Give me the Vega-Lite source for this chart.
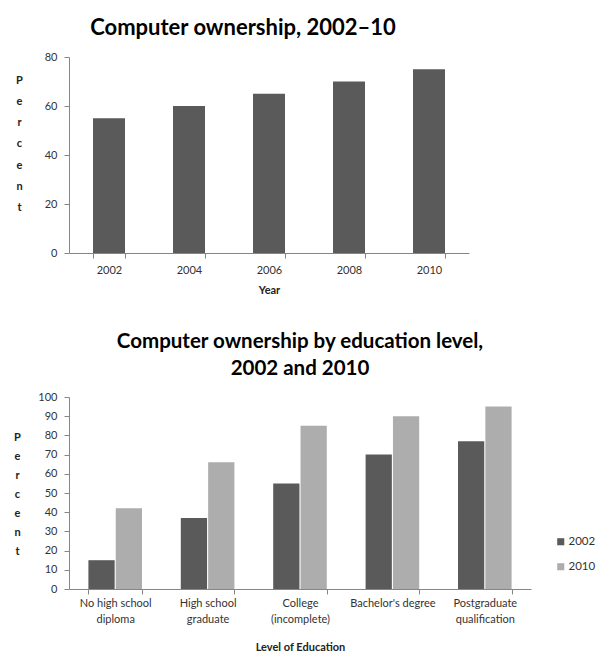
{
  "$schema": "https://vega.github.io/schema/vega-lite/v6.json",
  "background": "white",
  "padding": {"left": 13, "top": 17, "right": 5, "bottom": 5},
  "config": {
    "font": "Lato",
    "view": {"stroke": null},
    "axis": {
      "labelFont": "Lato", "labelFontSize": 11, "labelColor": "#333333",
      "domainColor": "#868686", "tickColor": "#868686", "tickSize": 5,
      "grid": false, "titleFont": "Lato", "titleFontSize": 11,
      "titleFontWeight": "bold", "titleColor": "#222222"
    },
    "title": {"font": "Lato", "fontWeight": "bold", "color": "#000000"},
    "concat": {"spacing": 36}
  },
  "datasets": {
    "years": [
      {"year": "2002", "percent": 55},
      {"year": "2004", "percent": 60},
      {"year": "2006", "percent": 65},
      {"year": "2008", "percent": 70},
      {"year": "2010", "percent": 75}
    ],
    "edu": [
      {"level": "No high school|diploma", "year": "2002", "percent": 15},
      {"level": "No high school|diploma", "year": "2010", "percent": 42},
      {"level": "High school|graduate", "year": "2002", "percent": 37},
      {"level": "High school|graduate", "year": "2010", "percent": 66},
      {"level": "College|(incomplete)", "year": "2002", "percent": 55},
      {"level": "College|(incomplete)", "year": "2010", "percent": 85},
      {"level": "Bachelor's degree", "year": "2002", "percent": 70},
      {"level": "Bachelor's degree", "year": "2010", "percent": 90},
      {"level": "Postgraduate|qualification", "year": "2002", "percent": 77},
      {"level": "Postgraduate|qualification", "year": "2010", "percent": 95}
    ]
  },
  "resolve": {"legend": {"color": "independent"}, "scale": {"color": "independent"}},
  "vconcat": [
    {
      "width": 400,
      "height": 196,
      "title": {"text": "Computer ownership, 2002–10", "fontSize": 22, "dx": -26, "offset": 11},
      "data": {"name": "years"},
      "mark": {"type": "bar", "color": "#5a5a5a"},
      "encoding": {
        "x": {
          "field": "year", "type": "ordinal",
          "scale": {"paddingInner": 0.6, "paddingOuter": 0.3},
          "axis": {"labelAngle": 0, "title": "Year", "tickBand": "extent", "labelPadding": 6, "titlePadding": 9}
        },
        "y": {
          "field": "percent", "type": "quantitative",
          "scale": {"domain": [0, 80]},
          "axis": {
            "values": [0, 20, 40, 60, 80], "labelPadding": 7,
            "title": ["P", "e", "r", "c", "e", "n", "t"],
            "titleAngle": 0, "titleAlign": "center", "titleBaseline": "middle",
            "titleLineHeight": 21.3, "titleX": -50, "titleY": 23, "titleFontSize": 11
          }
        }
      }
    },
    {
      "width": 462,
      "height": 192,
      "title": {"text": ["Computer ownership by education level,", "2002 and 2010"], "fontSize": 20.5, "lineHeight": 27, "offset": 12},
      "data": {"name": "edu"},
      "mark": {"type": "bar"},
      "encoding": {
        "x": {
          "field": "level", "type": "nominal", "sort": null,
          "scale": {"paddingInner": 0.42, "paddingOuter": 0.21},
          "axis": {
            "labelAngle": 0, "labelExpr": "split(datum.label, '|')", "labelLineHeight": 16,
            "title": "Level of Education", "tickBand": "extent", "labelPadding": 3, "titlePadding": 17
          }
        },
        "xOffset": {"field": "year", "type": "nominal", "scale": {"paddingInner": 0.04}},
        "y": {
          "field": "percent", "type": "quantitative",
          "scale": {"domain": [0, 100]},
          "axis": {
            "values": [0, 10, 20, 30, 40, 50, 60, 70, 80, 90, 100], "labelPadding": 7,
            "title": ["P", "e", "r", "c", "e", "n", "t"],
            "titleAngle": 0, "titleAlign": "center", "titleBaseline": "middle",
            "titleLineHeight": 19, "titleX": -52, "titleY": 40, "titleFontSize": 11
          }
        },
        "color": {
          "field": "year", "type": "nominal",
          "scale": {"range": ["#5a5a5a", "#adadad"]},
          "legend": {
            "title": null, "orient": "none", "legendX": 486, "legendY": 139,
            "symbolType": "square", "symbolSize": 50, "symbolStrokeWidth": 0,
            "labelFontSize": 11.5, "labelFont": "Lato", "labelColor": "#333333",
            "rowPadding": 12, "labelOffset": 2
          }
        }
      }
    }
  ]
}
